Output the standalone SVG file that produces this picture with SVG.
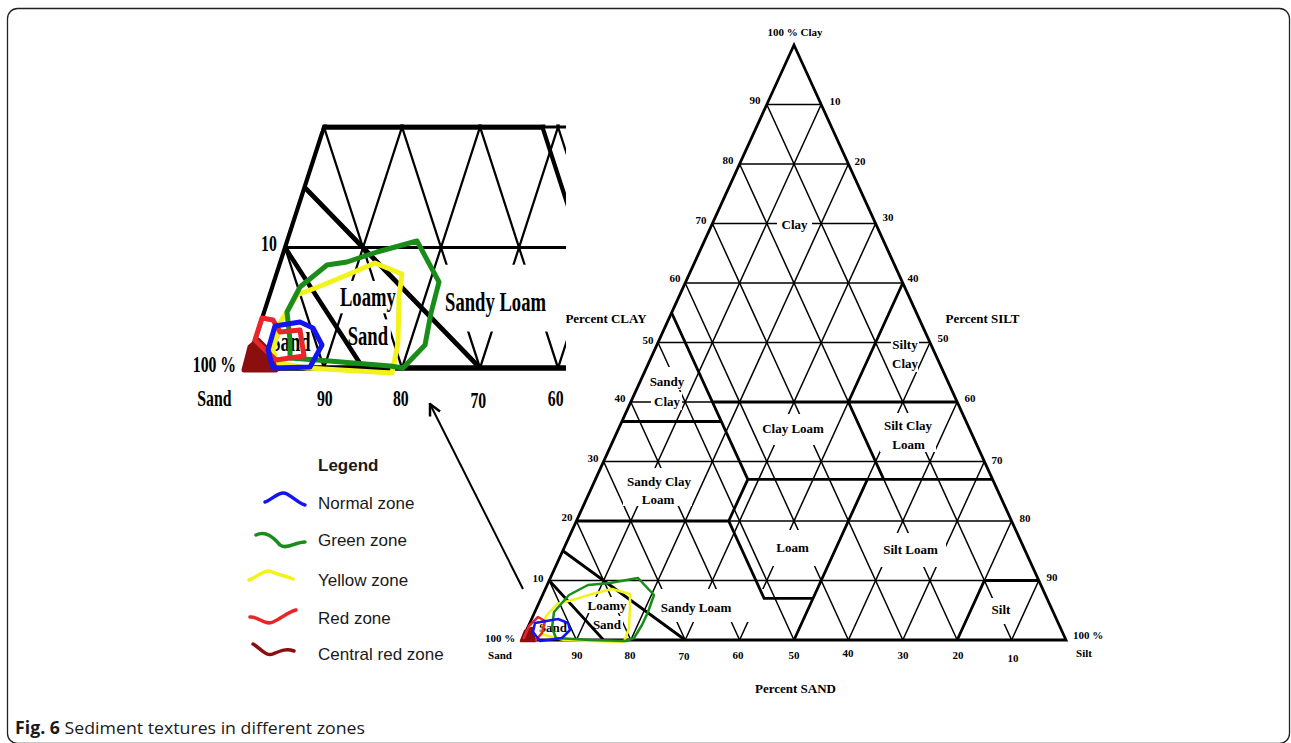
<svg xmlns="http://www.w3.org/2000/svg" width="1291" height="743" viewBox="0 0 1291 743">
<style>
.grid{stroke:#000;stroke-width:1.5;fill:none}
.bound{stroke:#000;stroke-width:2.8;fill:none;stroke-linejoin:miter}
.edge{stroke:#000;stroke-width:2.8;fill:none;stroke-linejoin:miter}
.mask{fill:#fff}
.lbl{font-family:"Liberation Serif","Times New Roman",serif;font-weight:bold;font-size:13px;text-anchor:middle;fill:#000}
.num{font-family:"Liberation Serif","Times New Roman",serif;font-weight:bold;font-size:11px;text-anchor:middle;fill:#000}
.zone{fill:none;stroke-linejoin:round;stroke-linecap:round}
.zm{stroke-width:2.5}
.zi{stroke-width:5}
.blue{stroke:#1414f0}
.green{stroke:#198c19}
.yellow{stroke:#f2f21c}
.red{stroke:#e8262a}
.dred{stroke:#8b0f0f;fill:#8b0f0f}
.leg{font-family:"Liberation Sans",Arial,sans-serif;font-size:17px;fill:#1a1a1a}
.wave{fill:none;stroke-width:3.5;stroke-linecap:round;stroke-linejoin:round}
.conn{stroke:#000;stroke-width:2;fill:none}
</style>
<defs>
<clipPath id="insetClip"><path d="M190,414.5 V131 H321 V124.5 H566 V414.5 Z"/></clipPath>
<marker id="arrowhead" markerUnits="userSpaceOnUse" markerWidth="14" markerHeight="14" viewBox="0 0 10 10" refX="9" refY="5" orient="auto">
<path d="M1,1 L9,5 L1,9" fill="none" stroke="#000" stroke-width="1.8"/>
</marker>
<g id="chart">
<path class="grid" d="M549.2,580.5H1038.8 M576.4,521H1011.6 M603.6,461.5H984.4 M630.8,402H957.2 M658,342.5H930 M685.2,283H902.8 M712.4,223.5H875.6 M739.6,164H848.4 M766.8,104.5H821.2"/>
<path class="grid" d="M576.4,640L821.2,104.5 M630.8,640L848.4,164 M685.2,640L875.6,223.5 M739.6,640L902.8,283 M794,640L930,342.5 M848.4,640L957.2,402 M902.8,640L984.4,461.5 M957.2,640L1011.6,521 M1011.6,640L1038.8,580.5"/>
<path class="grid" d="M576.4,640L549.2,580.5 M630.8,640L576.4,521 M685.2,640L603.6,461.5 M739.6,640L630.8,402 M794,640L658,342.5 M848.4,640L685.2,283 M902.8,640L712.4,223.5 M957.2,640L739.6,164 M1011.6,640L766.8,104.5"/>
<g class="mask">
<rect x="777" y="216" width="35" height="16"/>
<rect x="648" y="367" width="40" height="23"/>
<rect x="651" y="392" width="31" height="18"/>
<rect x="891" y="336" width="28" height="15"/>
<rect x="892" y="354" width="26" height="18"/>
<rect x="760" y="414" width="67" height="31"/>
<rect x="880" y="413" width="56" height="39"/>
<rect x="623" y="468" width="69" height="38"/>
<rect x="766" y="530" width="54" height="36"/>
<rect x="876" y="533" width="70" height="34"/>
<rect x="988" y="598" width="28" height="26"/>
<rect x="656" y="589" width="114" height="33"/>
<rect x="586" y="597" width="42" height="16"/>
<rect x="592" y="616" width="31" height="15"/>
<rect x="539" y="620" width="28" height="14"/>
</g>
<path class="bound" d="M549.2,580.5L603.6,640 M562.8,550.75L685.2,640 M576.4,521H728.7L764.1,598.35H813 M794,640L867.4,479.35 M728.7,521L747.8,479.35H992.6 M747.8,479.35L671.6,312.75 M621.9,421.5H721.3 M712.4,402H957.2 M848.4,402L902.8,283 M848.4,402L883.7,479.35 M957.2,640L984.4,580.5H1038.8"/>
<path class="edge" d="M794,45L522,640H1066Z"/>
<text class="lbl" x="794.5" y="228.5">Clay</text>
<text class="lbl" x="667" y="385.5">Sandy</text>
<text class="lbl" x="667" y="405.5">Clay</text>
<text class="lbl" x="905" y="348.5">Silty</text>
<text class="lbl" x="905" y="367.5">Clay</text>
<text class="lbl" x="793" y="432.5">Clay Loam</text>
<text class="lbl" x="908" y="429.5">Silt Clay</text>
<text class="lbl" x="908.5" y="448.5">Loam</text>
<text class="lbl" x="659" y="485.5">Sandy Clay</text>
<text class="lbl" x="658" y="504">Loam</text>
<text class="lbl" x="792.5" y="551.5">Loam</text>
<text class="lbl" x="910.5" y="553.5">Silt Loam</text>
<text class="lbl" x="696" y="612">Sandy Loam</text>
<text class="lbl" x="1001" y="613.5">Silt</text>
<text class="lbl" x="607" y="609.5">Loamy</text>
<text class="lbl" x="607" y="628.5">Sand</text>
<text class="lbl" x="553" y="631.5">Sand</text>
<text class="num" x="755" y="104">90</text>
<text class="num" x="728" y="164">80</text>
<text class="num" x="701" y="224">70</text>
<text class="num" x="675" y="282">60</text>
<text class="num" x="648" y="344">50</text>
<text class="num" x="620" y="402">40</text>
<text class="num" x="593" y="462">30</text>
<text class="num" x="567" y="521">20</text>
<text class="num" x="538" y="582">10</text>
<text class="num" x="835" y="105">10</text>
<text class="num" x="860" y="165">20</text>
<text class="num" x="888" y="221">30</text>
<text class="num" x="913" y="282">40</text>
<text class="num" x="943" y="342">50</text>
<text class="num" x="970" y="402">60</text>
<text class="num" x="997" y="464">70</text>
<text class="num" x="1025" y="522">80</text>
<text class="num" x="1052" y="581">90</text>
<text class="num" x="577" y="659">90</text>
<text class="num" x="630" y="659">80</text>
<text class="num" x="684" y="660">70</text>
<text class="num" x="738" y="659">60</text>
<text class="num" x="794" y="659">50</text>
<text class="num" x="848" y="657">40</text>
<text class="num" x="903" y="659">30</text>
<text class="num" x="958" y="659">20</text>
<text class="num" x="1013" y="662">10</text>
<text class="num" x="500" y="642">100 %</text>
<text class="num" x="500" y="659">Sand</text>
<text class="num" x="1088" y="639">100 %</text>
<text class="num" x="1084" y="657">Silt</text>
<text class="num" x="795" y="36">100 % Clay</text>
<text class="lbl" x="606" y="322.5">Percent CLAY</text>
<text class="lbl" x="982.5" y="322.5">Percent SILT</text>
<text class="lbl" x="795.5" y="692.5">Percent SAND</text>
</g>
</defs>
<rect id="frame" x="7.5" y="8.5" width="1282" height="735" rx="10" fill="none" stroke="#222" stroke-width="1.3"/>
<g id="main-chart"><use href="#chart"/></g>
<g id="inset" clip-path="url(#insetClip)"><use href="#chart" transform="matrix(1.434 0 0 2.025 -502.548 -928)"/></g>
<g id="zones-main">
<polygon class="zone zm yellow" points="541,634 546,616 557,604 576,599 592,594 612,589 630,594 630,606 629,628 624,642 564,640"/>
<polygon class="zone zm green" points="569,595 588,585 610,583 638,578 654,595 648,612 642,625 634,638 626,641 590,640 556,638 552,628 554,612"/>
<polygon class="zone zm dred" points="521,641 525,631 532,628 535,641"/>
<polyline class="zone zm red" points="524,638 529,626 538,617 545,621 542,633 536,640"/>
<polygon class="zone zm blue" points="535,623 558,619 568,623 570,630 562,638 540,641 533,632"/>
</g>
<g id="zones-inset">
<polygon class="zone zi yellow" points="375,263 402,274 399,297 398,343 392,373 307,368 277,363 273,350 280,323 297,295 323,285 347,275"/>
<polygon class="zone zi green" points="327,265 347,262 377,252 417,241 439,282 431,313 425,345 403,368 390,366 317,360 290,358 290,340 287,312 300,287"/>
<polygon class="zone zi dred" points="244,370 250,347 258,340 268,350 276,370"/>
<polygon class="zone zi red" points="255,340 262,318 273,320 280,332 300,330 304,356 276,360 262,347"/>
<polygon class="zone zi blue" points="275,326 300,322 313,328 322,345 310,367 273,368 268,350"/>
</g>
<g id="connectors">
<path class="conn" d="M523,589 L430,404" marker-end="url(#arrowhead)"/>
</g>
<g id="legend">
<text class="leg" x="318" y="471" font-weight="bold">Legend</text>
<path class="wave blue" d="M265,502 C272,500 279,490 287,494 C294,498 300,504 305,505"/>
<text class="leg" x="318" y="509">Normal zone</text>
<path class="wave green" d="M256,535 C266,530 274,538 280,545 C286,550 295,542 305,542"/>
<text class="leg" x="318" y="546">Green zone</text>
<path class="wave yellow" d="M249,580 C258,577 265,568 272,572 C278,575 285,575 293,579"/>
<text class="leg" x="318" y="586">Yellow zone</text>
<path class="wave red" d="M250,617 C258,616 265,626 273,622 C282,618 288,612 296,610"/>
<text class="leg" x="318" y="624">Red zone</text>
<path class="wave" stroke="#8b0f0f" d="M253,644 C260,648 266,657 273,654 C280,651 286,648 294,651"/>
<text class="leg" x="318" y="660">Central red zone</text>
</g>
<text id="caption" x="15" y="734" font-family="'Open Sans','Noto Sans',sans-serif" font-size="17" fill="#1a1a1a" textLength="350" lengthAdjust="spacingAndGlyphs"><tspan font-weight="bold">Fig. 6</tspan> Sediment textures in different zones</text>
</svg>
